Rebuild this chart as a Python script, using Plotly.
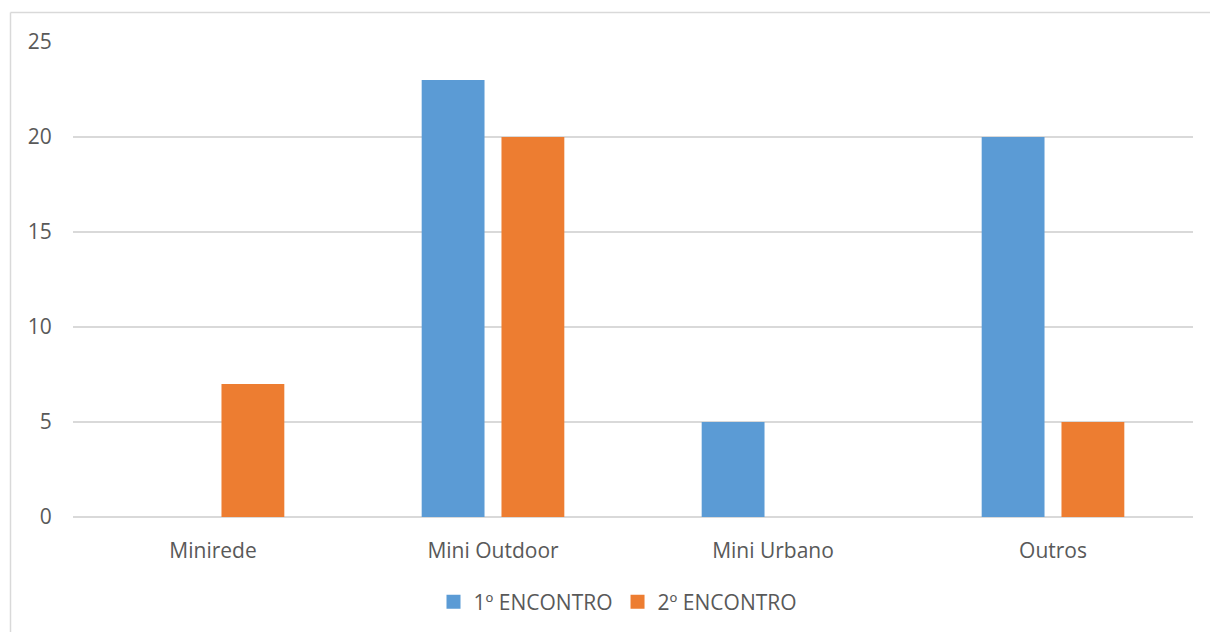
import plotly.graph_objects as go

categories = ["Minirede", "Mini Outdoor", "Mini Urbano", "Outros"]
encontro_1 = [0, 23, 5, 20]
encontro_2 = [7, 20, 0, 5]
series_names = ["1º ENCONTRO", "2º ENCONTRO"]
y_ticks = [0, 5, 10, 15, 20, 25]

BLUE = "#5B9BD5"
ORANGE = "#ED7D31"
TEXT = "#595959"
GRID = "#D9D9D9"
FONT = "'Open Sans', 'Noto Sans', sans-serif"

fig = go.Figure()
for vals, name, color in [(encontro_1, series_names[0], BLUE),
                          (encontro_2, series_names[1], ORANGE)]:
    fig.add_trace(go.Bar(x=categories, y=vals, name=name, legendgroup=name,
                         showlegend=False,
                         marker=dict(color=color, line=dict(width=0))))

# square legend keys
for name, color in [(series_names[0], BLUE), (series_names[1], ORANGE)]:
    fig.add_trace(go.Scatter(x=[None], y=[None], mode="markers", name=name,
                             legendgroup=name,
                             marker=dict(symbol="square", size=14, color=color)))

W, H = 1210, 632
L, R, T, B = 73, 17, 42, 115
pw, ph = W - L - R, H - T - B

# outer chart frame (left and top edges visible)
fx = (10.5 - L) / pw
fy = 1 + (T - 12.5) / ph
frame = dict(color="#D9D9D9", width=1.5)
shapes = [
    dict(type="line", xref="paper", yref="paper", x0=fx, x1=1.5, y0=fy, y1=fy, line=frame),
    dict(type="line", xref="paper", yref="paper", x0=fx, x1=fx, y0=fy, y1=-0.5, line=frame),
]

fig.update_layout(
    width=W, height=H,
    margin=dict(l=L, r=R, t=T, b=B, autoexpand=False),
    paper_bgcolor="white", plot_bgcolor="white",
    font=dict(family=FONT, size=21, color=TEXT),
    barmode="group", bargap=0.43, bargroupgap=0.2125,
    showlegend=True,
    legend=dict(orientation="h", x=(618 - L) / pw, xanchor="center",
                y=(517 - 602) / ph, yanchor="middle",
                font=dict(size=21, color=TEXT), traceorder="normal",
                itemwidth=30),
    shapes=shapes,
    xaxis=dict(showgrid=False, showline=False, zeroline=False, automargin=False,
               ticks="outside", ticklen=15, tickcolor="rgba(0,0,0,0)",
               tickfont=dict(size=21, color=TEXT)),
    yaxis=dict(range=[0, 25], tickvals=y_ticks, showgrid=True, gridcolor=GRID,
               gridwidth=1.5, zeroline=True, zerolinecolor=GRID, zerolinewidth=1.5,
               showline=False, automargin=False, ticks="outside", ticklen=16,
               tickcolor="rgba(0,0,0,0)", tickfont=dict(size=21, color=TEXT)),
)

fig.write_html("out.html")
